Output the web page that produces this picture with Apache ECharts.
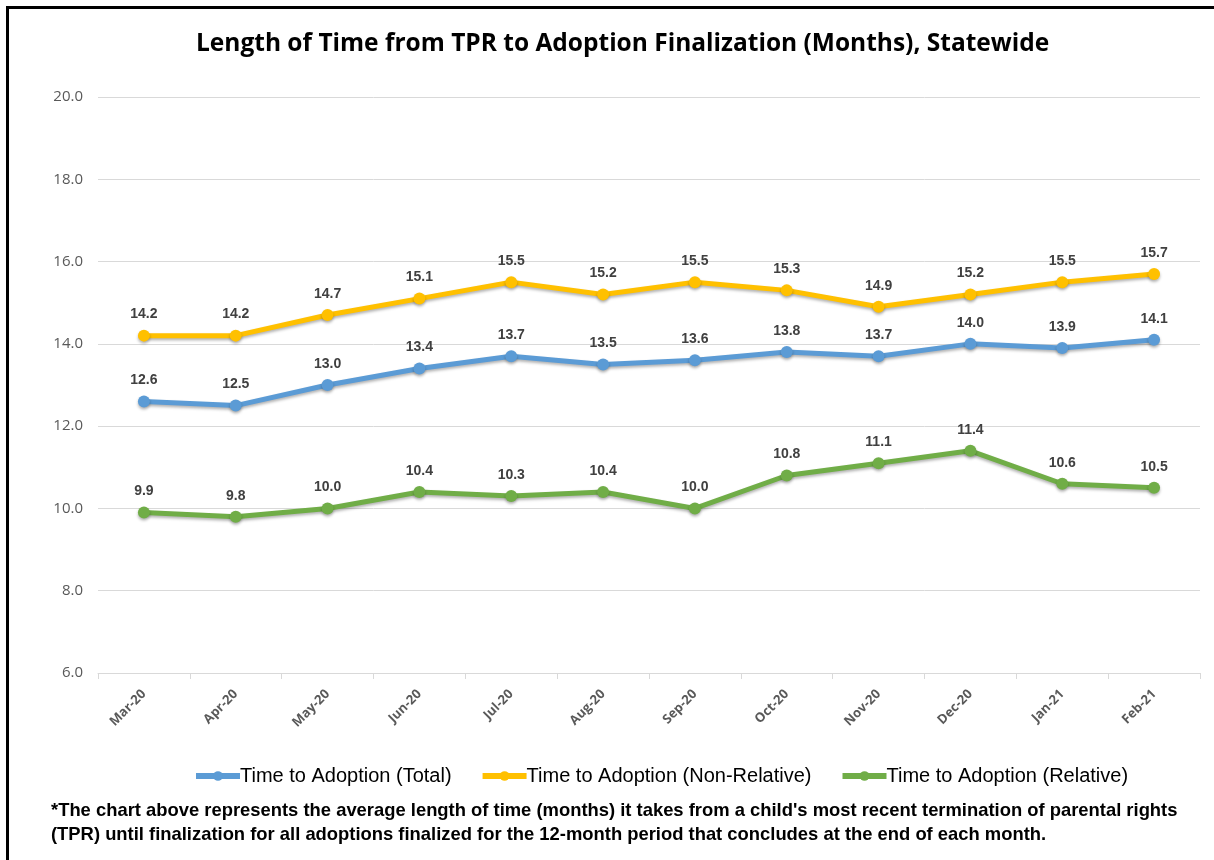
<!DOCTYPE html>
<html style="height: 100%">
<head>
<meta charset="utf-8">
<script type="text/javascript" src="https://cdn.jsdelivr.net/npm/echarts@6/dist/echarts.min.js"></script>
</head>
<body style="width: 100%; height: 100%; margin: 0; background: #fff; overflow: hidden">
<div id="frame" style="position: absolute; left: 6px; top: 6px; width: 1400px; height: 1000px; border: 3px solid #000;"></div>
<div id="main" style="position: absolute; left: 0; top: 0; width: 1214px; height: 860px;"></div>
<script type="text/javascript">

// 月份
var months = ['Mar-20', 'Apr-20', 'May-20', 'Jun-20', 'Jul-20', 'Aug-20', 'Sep-20', 'Oct-20', 'Nov-20', 'Dec-20', 'Jan-21', 'Feb-21'];
var totalData = [12.6, 12.5, 13.0, 13.4, 13.7, 13.5, 13.6, 13.8, 13.7, 14.0, 13.9, 14.1];
var nonRelativeData = [14.2, 14.2, 14.7, 15.1, 15.5, 15.2, 15.5, 15.3, 14.9, 15.2, 15.5, 15.7];
var relativeData = [9.9, 9.8, 10.0, 10.4, 10.3, 10.4, 10.0, 10.8, 11.1, 11.4, 10.6, 10.5];

var footnote = "*The chart above represents the average length of time (months) it takes from a child's most recent termination of parental rights\n(TPR) until finalization for all adoptions finalized for the 12-month period that concludes at the end of each month.";

var myChart = echarts.init(document.getElementById('main'));

var makeSeries = function(name, data, color) {
    return {
        name: name,
        type: 'line',
        data: data,
        symbol: 'circle',
        symbolSize: 12,
        lineStyle: {
            width: 5,
            color: color,
            shadowColor: 'rgba(0,0,0,0.3)',
            shadowBlur: 3,
            shadowOffsetY: 2
        },
        itemStyle: {
            color: color,
            shadowColor: 'rgba(0,0,0,0.3)',
            shadowBlur: 3,
            shadowOffsetY: 2
        },
        label: {
            show: true,
            position: 'top',
            distance: 8,
            formatter: function(p) { return p.value.toFixed(1); },
            fontFamily: 'Liberation Sans, Arial, sans-serif',
            fontWeight: 'bold',
            fontSize: 14,
            color: '#404040'
        },
        animation: false
    };
};

var option = {
    backgroundColor: 'transparent',
    title: {
        text: 'Length of Time from TPR to Adoption Finalization (Months), Statewide',
        left: 191,
        top: 27,
        textStyle: {
            fontFamily: 'Open Sans, Noto Sans, sans-serif',
            fontWeight: 'bold',
            fontSize: 24.5,
            color: '#000'
        }
    },
    grid: {
        left: 98,
        right: 14,
        top: 97,
        bottom: 187
    },
    legend: {
        top: 761,
        left: 188,
        itemWidth: 44,
        itemHeight: 12,
        itemGap: 28,
        lineStyle: { width: 6 },
        textStyle: {
            fontFamily: 'Liberation Sans, Arial, sans-serif',
            fontSize: 20,
            color: '#000',
            padding: [0, 0, 0, -5]
        },
        data: ['Time to Adoption (Total)', 'Time to Adoption (Non-Relative)', 'Time to Adoption (Relative)']
    },
    xAxis: {
        type: 'category',
        data: months,
        boundaryGap: true,
        axisLine: { lineStyle: { color: '#d9d9d9', width: 1 } },
        axisTick: { show: true, alignWithLabel: false, length: 6, lineStyle: { color: '#d9d9d9' } },
        axisLabel: {
            rotate: 45,
            margin: 19,
            fontFamily: 'Open Sans, Noto Sans, sans-serif',
            fontWeight: 'bold',
            fontSize: 13,
            color: '#595959'
        }
    },
    yAxis: {
        type: 'value',
        min: 6,
        max: 20,
        interval: 2,
        axisLine: { show: false },
        axisTick: { show: false },
        splitLine: { lineStyle: { color: '#d9d9d9', width: 1 } },
        axisLabel: {
            margin: 15,
            formatter: function(v) { return v.toFixed(1); },
            fontFamily: 'Open Sans, Noto Sans, sans-serif',
            fontSize: 15,
            color: '#595959'
        }
    },
    graphic: [
        {
            type: 'text',
            left: 51,
            top: 799,
            style: {
                text: footnote,
                fontFamily: 'Liberation Sans, Arial, sans-serif',
                fontWeight: 'bold',
                fontSize: 18.4,
                lineHeight: 24,
                fill: '#000'
            }
        }
    ],
    series: [
        makeSeries('Time to Adoption (Total)', totalData, '#5B9BD5'),
        makeSeries('Time to Adoption (Non-Relative)', nonRelativeData, '#FFC000'),
        makeSeries('Time to Adoption (Relative)', relativeData, '#70AD47')
    ]
};

myChart.setOption(option);

</script>
</body>
</html>
